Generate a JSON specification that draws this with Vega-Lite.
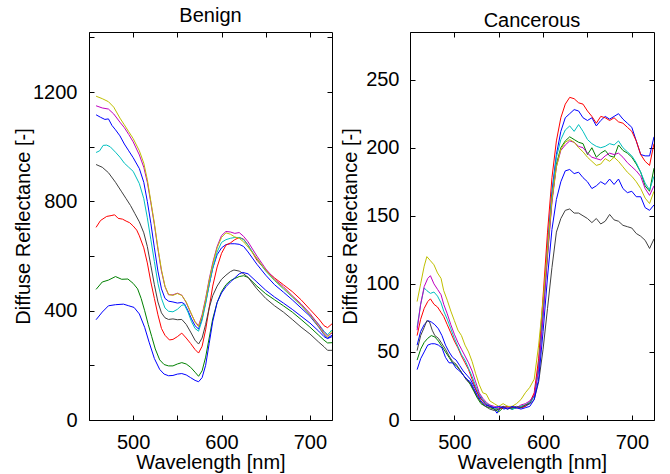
{
"$schema": "https://vega.github.io/schema/vega-lite/v6.json",
"padding": {"left": 13, "top": 5, "right": 5, "bottom": 0},
"background": "white",
"config": {
  "view": {"stroke": "#000", "strokeWidth": 1},
  "font": "Liberation Sans",
  "axis": {"grid": false, "domain": false, "labelFont": "Liberation Sans", "labelFontSize": 20, "labelColor": "#000", "titleFont": "Liberation Sans", "titleFontSize": 20, "titleFontWeight": "normal", "titleColor": "#000", "tickColor": "#000", "tickSize": -5, "labelPadding": 14, "labelOverlap": false, "labelFlush": false, "labelBound": false},
  "title": {"font": "Liberation Sans", "fontSize": 20, "fontWeight": "normal", "color": "#000", "offset": 1}
},
"datasets": {
"benign": [
{"s":"b1","w":458,"v":1117},{"s":"b1","w":463,"v":1108},{"s":"b1","w":468,"v":1100},{"s":"b1","w":472,"v":1102},{"s":"b1","w":476,"v":1078},{"s":"b1","w":480,"v":1062},{"s":"b1","w":485,"v":1040},{"s":"b1","w":490,"v":1010},{"s":"b1","w":495,"v":985},{"s":"b1","w":500,"v":960},{"s":"b1","w":507,"v":920},{"s":"b1","w":512,"v":870},{"s":"b1","w":516,"v":800},{"s":"b1","w":520,"v":720},{"s":"b1","w":524,"v":630},{"s":"b1","w":528,"v":545},{"s":"b1","w":532,"v":480},{"s":"b1","w":536,"v":445},{"s":"b1","w":540,"v":435},{"s":"b1","w":545,"v":432},{"s":"b1","w":550,"v":428},{"s":"b1","w":555,"v":430},{"s":"b1","w":558,"v":425},{"s":"b1","w":562,"v":400},{"s":"b1","w":566,"v":370},{"s":"b1","w":570,"v":345},{"s":"b1","w":574,"v":333},{"s":"b1","w":578,"v":372},{"s":"b1","w":582,"v":430},{"s":"b1","w":586,"v":495},{"s":"b1","w":590,"v":555},{"s":"b1","w":595,"v":605},{"s":"b1","w":600,"v":630},{"s":"b1","w":605,"v":642},{"s":"b1","w":610,"v":645},{"s":"b1","w":615,"v":645},{"s":"b1","w":620,"v":643},{"s":"b1","w":625,"v":635},{"s":"b1","w":630,"v":615},{"s":"b1","w":640,"v":570},{"s":"b1","w":650,"v":530},{"s":"b1","w":660,"v":495},{"s":"b1","w":670,"v":468},{"s":"b1","w":680,"v":440},{"s":"b1","w":690,"v":410},{"s":"b1","w":700,"v":380},{"s":"b1","w":710,"v":340},{"s":"b1","w":716,"v":312},{"s":"b1","w":720,"v":300},{"s":"b1","w":725,"v":310},
{"s":"g","w":458,"v":478},{"s":"g","w":465,"v":505},{"s":"g","w":472,"v":512},{"s":"g","w":480,"v":525},{"s":"g","w":487,"v":515},{"s":"g","w":494,"v":516},{"s":"g","w":500,"v":500},{"s":"g","w":505,"v":480},{"s":"g","w":509,"v":445},{"s":"g","w":513,"v":400},{"s":"g","w":517,"v":350},{"s":"g","w":521,"v":305},{"s":"g","w":525,"v":260},{"s":"g","w":530,"v":220},{"s":"g","w":535,"v":203},{"s":"g","w":540,"v":198},{"s":"g","w":545,"v":198},{"s":"g","w":550,"v":205},{"s":"g","w":555,"v":210},{"s":"g","w":560,"v":205},{"s":"g","w":565,"v":193},{"s":"g","w":570,"v":175},{"s":"g","w":574,"v":160},{"s":"g","w":578,"v":180},{"s":"g","w":582,"v":230},{"s":"g","w":586,"v":300},{"s":"g","w":590,"v":370},{"s":"g","w":595,"v":430},{"s":"g","w":600,"v":470},{"s":"g","w":605,"v":495},{"s":"g","w":610,"v":510},{"s":"g","w":615,"v":518},{"s":"g","w":620,"v":525},{"s":"g","w":625,"v":528},{"s":"g","w":630,"v":522},{"s":"g","w":640,"v":490},{"s":"g","w":650,"v":462},{"s":"g","w":660,"v":440},{"s":"g","w":670,"v":418},{"s":"g","w":680,"v":395},{"s":"g","w":690,"v":368},{"s":"g","w":700,"v":340},{"s":"g","w":710,"v":310},{"s":"g","w":716,"v":292},{"s":"g","w":720,"v":282},{"s":"g","w":725,"v":283},
{"s":"r","w":458,"v":705},{"s":"r","w":463,"v":730},{"s":"r","w":470,"v":745},{"s":"r","w":475,"v":748},{"s":"r","w":479,"v":751},{"s":"r","w":483,"v":738},{"s":"r","w":488,"v":735},{"s":"r","w":492,"v":728},{"s":"r","w":496,"v":722},{"s":"r","w":500,"v":710},{"s":"r","w":504,"v":695},{"s":"r","w":507,"v":674},{"s":"r","w":512,"v":630},{"s":"r","w":516,"v":575},{"s":"r","w":520,"v":505},{"s":"r","w":524,"v":445},{"s":"r","w":528,"v":385},{"s":"r","w":532,"v":335},{"s":"r","w":536,"v":310},{"s":"r","w":541,"v":293},{"s":"r","w":545,"v":295},{"s":"r","w":550,"v":305},{"s":"r","w":555,"v":318},{"s":"r","w":560,"v":300},{"s":"r","w":565,"v":280},{"s":"r","w":570,"v":258},{"s":"r","w":574,"v":245},{"s":"r","w":578,"v":270},{"s":"r","w":582,"v":330},{"s":"r","w":586,"v":410},{"s":"r","w":590,"v":490},{"s":"r","w":595,"v":560},{"s":"r","w":600,"v":610},{"s":"r","w":605,"v":640},{"s":"r","w":610,"v":648},{"s":"r","w":615,"v":660},{"s":"r","w":620,"v":668},{"s":"r","w":625,"v":662},{"s":"r","w":630,"v":640},{"s":"r","w":640,"v":585},{"s":"r","w":650,"v":548},{"s":"r","w":660,"v":520},{"s":"r","w":670,"v":495},{"s":"r","w":680,"v":470},{"s":"r","w":690,"v":440},{"s":"r","w":700,"v":405},{"s":"r","w":710,"v":370},{"s":"r","w":716,"v":345},{"s":"r","w":720,"v":338},{"s":"r","w":725,"v":352},
{"s":"c","w":458,"v":979},{"s":"c","w":462,"v":985},{"s":"c","w":466,"v":1005},{"s":"c","w":470,"v":1006},{"s":"c","w":474,"v":1000},{"s":"c","w":480,"v":980},{"s":"c","w":485,"v":962},{"s":"c","w":490,"v":940},{"s":"c","w":495,"v":925},{"s":"c","w":500,"v":910},{"s":"c","w":507,"v":865},{"s":"c","w":512,"v":810},{"s":"c","w":516,"v":740},{"s":"c","w":520,"v":660},{"s":"c","w":524,"v":580},{"s":"c","w":528,"v":500},{"s":"c","w":532,"v":445},{"s":"c","w":536,"v":410},{"s":"c","w":540,"v":398},{"s":"c","w":545,"v":396},{"s":"c","w":550,"v":405},{"s":"c","w":555,"v":420},{"s":"c","w":558,"v":422},{"s":"c","w":562,"v":395},{"s":"c","w":566,"v":360},{"s":"c","w":570,"v":335},{"s":"c","w":574,"v":325},{"s":"c","w":578,"v":365},{"s":"c","w":582,"v":425},{"s":"c","w":586,"v":495},{"s":"c","w":590,"v":555},{"s":"c","w":595,"v":615},{"s":"c","w":600,"v":650},{"s":"c","w":605,"v":660},{"s":"c","w":610,"v":665},{"s":"c","w":615,"v":668},{"s":"c","w":620,"v":668},{"s":"c","w":625,"v":660},{"s":"c","w":630,"v":640},{"s":"c","w":640,"v":590},{"s":"c","w":650,"v":545},{"s":"c","w":660,"v":510},{"s":"c","w":670,"v":480},{"s":"c","w":680,"v":450},{"s":"c","w":690,"v":420},{"s":"c","w":700,"v":385},{"s":"c","w":710,"v":350},{"s":"c","w":716,"v":325},{"s":"c","w":720,"v":312},{"s":"c","w":725,"v":330},
{"s":"m","w":458,"v":1150},{"s":"m","w":465,"v":1142},{"s":"m","w":472,"v":1138},{"s":"m","w":478,"v":1120},{"s":"m","w":485,"v":1090},{"s":"m","w":490,"v":1070},{"s":"m","w":495,"v":1045},{"s":"m","w":500,"v":1018},{"s":"m","w":507,"v":970},{"s":"m","w":512,"v":925},{"s":"m","w":516,"v":870},{"s":"m","w":520,"v":795},{"s":"m","w":524,"v":715},{"s":"m","w":528,"v":625},{"s":"m","w":532,"v":545},{"s":"m","w":536,"v":488},{"s":"m","w":540,"v":458},{"s":"m","w":545,"v":458},{"s":"m","w":550,"v":464},{"s":"m","w":555,"v":457},{"s":"m","w":560,"v":430},{"s":"m","w":565,"v":393},{"s":"m","w":570,"v":360},{"s":"m","w":574,"v":345},{"s":"m","w":578,"v":385},{"s":"m","w":582,"v":445},{"s":"m","w":586,"v":515},{"s":"m","w":590,"v":575},{"s":"m","w":595,"v":635},{"s":"m","w":600,"v":675},{"s":"m","w":605,"v":690},{"s":"m","w":610,"v":688},{"s":"m","w":615,"v":683},{"s":"m","w":620,"v":686},{"s":"m","w":625,"v":672},{"s":"m","w":630,"v":652},{"s":"m","w":640,"v":600},{"s":"m","w":650,"v":553},{"s":"m","w":660,"v":515},{"s":"m","w":670,"v":488},{"s":"m","w":680,"v":455},{"s":"m","w":690,"v":425},{"s":"m","w":700,"v":390},{"s":"m","w":710,"v":348},{"s":"m","w":716,"v":320},{"s":"m","w":720,"v":308},{"s":"m","w":725,"v":318},
{"s":"y","w":458,"v":1185},{"s":"y","w":465,"v":1176},{"s":"y","w":472,"v":1165},{"s":"y","w":478,"v":1145},{"s":"y","w":485,"v":1105},{"s":"y","w":490,"v":1080},{"s":"y","w":495,"v":1055},{"s":"y","w":500,"v":1030},{"s":"y","w":507,"v":985},{"s":"y","w":512,"v":940},{"s":"y","w":516,"v":880},{"s":"y","w":520,"v":800},{"s":"y","w":524,"v":720},{"s":"y","w":528,"v":630},{"s":"y","w":532,"v":550},{"s":"y","w":536,"v":490},{"s":"y","w":540,"v":460},{"s":"y","w":545,"v":456},{"s":"y","w":550,"v":463},{"s":"y","w":555,"v":456},{"s":"y","w":560,"v":432},{"s":"y","w":565,"v":395},{"s":"y","w":570,"v":358},{"s":"y","w":574,"v":342},{"s":"y","w":578,"v":380},{"s":"y","w":582,"v":440},{"s":"y","w":586,"v":510},{"s":"y","w":590,"v":570},{"s":"y","w":595,"v":630},{"s":"y","w":600,"v":668},{"s":"y","w":605,"v":685},{"s":"y","w":610,"v":680},{"s":"y","w":615,"v":670},{"s":"y","w":620,"v":665},{"s":"y","w":625,"v":652},{"s":"y","w":630,"v":633},{"s":"y","w":640,"v":592},{"s":"y","w":650,"v":548},{"s":"y","w":660,"v":512},{"s":"y","w":670,"v":483},{"s":"y","w":680,"v":452},{"s":"y","w":690,"v":420},{"s":"y","w":700,"v":385},{"s":"y","w":710,"v":342},{"s":"y","w":716,"v":315},{"s":"y","w":720,"v":303},{"s":"y","w":725,"v":325},
{"s":"k","w":458,"v":935},{"s":"k","w":465,"v":925},{"s":"k","w":472,"v":905},{"s":"k","w":480,"v":870},{"s":"k","w":487,"v":835},{"s":"k","w":492,"v":810},{"s":"k","w":497,"v":785},{"s":"k","w":502,"v":755},{"s":"k","w":507,"v":725},{"s":"k","w":512,"v":685},{"s":"k","w":516,"v":635},{"s":"k","w":520,"v":565},{"s":"k","w":524,"v":495},{"s":"k","w":528,"v":432},{"s":"k","w":532,"v":392},{"s":"k","w":536,"v":374},{"s":"k","w":540,"v":368},{"s":"k","w":545,"v":370},{"s":"k","w":550,"v":367},{"s":"k","w":555,"v":368},{"s":"k","w":560,"v":350},{"s":"k","w":565,"v":322},{"s":"k","w":570,"v":292},{"s":"k","w":574,"v":278},{"s":"k","w":578,"v":300},{"s":"k","w":582,"v":350},{"s":"k","w":586,"v":410},{"s":"k","w":590,"v":455},{"s":"k","w":595,"v":490},{"s":"k","w":600,"v":515},{"s":"k","w":605,"v":530},{"s":"k","w":610,"v":543},{"s":"k","w":614,"v":549},{"s":"k","w":620,"v":545},{"s":"k","w":625,"v":535},{"s":"k","w":630,"v":522},{"s":"k","w":640,"v":480},{"s":"k","w":650,"v":445},{"s":"k","w":660,"v":418},{"s":"k","w":670,"v":395},{"s":"k","w":680,"v":368},{"s":"k","w":690,"v":340},{"s":"k","w":700,"v":315},{"s":"k","w":710,"v":285},{"s":"k","w":716,"v":268},{"s":"k","w":720,"v":255},{"s":"k","w":725,"v":255},
{"s":"b2","w":458,"v":367},{"s":"b2","w":465,"v":395},{"s":"b2","w":472,"v":418},{"s":"b2","w":480,"v":422},{"s":"b2","w":489,"v":424},{"s":"b2","w":495,"v":418},{"s":"b2","w":501,"v":412},{"s":"b2","w":507,"v":388},{"s":"b2","w":513,"v":339},{"s":"b2","w":518,"v":285},{"s":"b2","w":524,"v":225},{"s":"b2","w":530,"v":185},{"s":"b2","w":535,"v":168},{"s":"b2","w":540,"v":162},{"s":"b2","w":545,"v":163},{"s":"b2","w":550,"v":168},{"s":"b2","w":555,"v":170},{"s":"b2","w":560,"v":165},{"s":"b2","w":565,"v":155},{"s":"b2","w":570,"v":145},{"s":"b2","w":574,"v":140},{"s":"b2","w":578,"v":155},{"s":"b2","w":582,"v":200},{"s":"b2","w":586,"v":280},{"s":"b2","w":590,"v":360},{"s":"b2","w":595,"v":430},{"s":"b2","w":600,"v":465},{"s":"b2","w":605,"v":488},{"s":"b2","w":610,"v":505},{"s":"b2","w":615,"v":520},{"s":"b2","w":620,"v":535},{"s":"b2","w":624,"v":540},{"s":"b2","w":630,"v":535},{"s":"b2","w":640,"v":505},{"s":"b2","w":650,"v":475},{"s":"b2","w":660,"v":450},{"s":"b2","w":670,"v":428},{"s":"b2","w":680,"v":405},{"s":"b2","w":690,"v":380},{"s":"b2","w":700,"v":355},{"s":"b2","w":710,"v":325},{"s":"b2","w":716,"v":305},{"s":"b2","w":720,"v":298},{"s":"b2","w":725,"v":305}
],
"cancer": [
{"s":"b1","w":458,"v":55},{"s":"b1","w":462,"v":65},{"s":"b1","w":466,"v":70},{"s":"b1","w":470,"v":73},{"s":"b1","w":474,"v":72},{"s":"b1","w":478,"v":70},{"s":"b1","w":482,"v":67},{"s":"b1","w":486,"v":62},{"s":"b1","w":490,"v":55},{"s":"b1","w":494,"v":50},{"s":"b1","w":498,"v":46},{"s":"b1","w":502,"v":44},{"s":"b1","w":506,"v":40},{"s":"b1","w":510,"v":36},{"s":"b1","w":514,"v":33},{"s":"b1","w":518,"v":30},{"s":"b1","w":522,"v":25},{"s":"b1","w":526,"v":20},{"s":"b1","w":530,"v":16},{"s":"b1","w":535,"v":12},{"s":"b1","w":540,"v":10},{"s":"b1","w":545,"v":8},{"s":"b1","w":548,"v":5},{"s":"b1","w":552,"v":9},{"s":"b1","w":556,"v":8},{"s":"b1","w":560,"v":9},{"s":"b1","w":565,"v":8},{"s":"b1","w":570,"v":9},{"s":"b1","w":575,"v":9},{"s":"b1","w":580,"v":10},{"s":"b1","w":585,"v":12},{"s":"b1","w":590,"v":18},{"s":"b1","w":595,"v":40},{"s":"b1","w":600,"v":84},{"s":"b1","w":605,"v":128},{"s":"b1","w":610,"v":168},{"s":"b1","w":615,"v":195},{"s":"b1","w":620,"v":212},{"s":"b1","w":625,"v":222},{"s":"b1","w":630,"v":225},{"s":"b1","w":635,"v":228},{"s":"b1","w":640,"v":227},{"s":"b1","w":645,"v":222},{"s":"b1","w":650,"v":220},{"s":"b1","w":655,"v":222},{"s":"b1","w":660,"v":216},{"s":"b1","w":665,"v":220},{"s":"b1","w":670,"v":223},{"s":"b1","w":675,"v":221},{"s":"b1","w":680,"v":223},{"s":"b1","w":685,"v":225},{"s":"b1","w":690,"v":221},{"s":"b1","w":695,"v":218},{"s":"b1","w":700,"v":215},{"s":"b1","w":705,"v":205},{"s":"b1","w":710,"v":195},{"s":"b1","w":715,"v":194},{"s":"b1","w":720,"v":194},{"s":"b1","w":725,"v":208},
{"s":"g","w":458,"v":44},{"s":"g","w":462,"v":52},{"s":"g","w":466,"v":57},{"s":"g","w":470,"v":60},{"s":"g","w":474,"v":62},{"s":"g","w":478,"v":61},{"s":"g","w":482,"v":58},{"s":"g","w":486,"v":54},{"s":"g","w":490,"v":50},{"s":"g","w":494,"v":46},{"s":"g","w":498,"v":42},{"s":"g","w":502,"v":40},{"s":"g","w":506,"v":37},{"s":"g","w":510,"v":33},{"s":"g","w":514,"v":30},{"s":"g","w":518,"v":26},{"s":"g","w":522,"v":21},{"s":"g","w":526,"v":16},{"s":"g","w":530,"v":12},{"s":"g","w":535,"v":10},{"s":"g","w":540,"v":9},{"s":"g","w":545,"v":8},{"s":"g","w":550,"v":6},{"s":"g","w":555,"v":9},{"s":"g","w":560,"v":10},{"s":"g","w":565,"v":8},{"s":"g","w":570,"v":9},{"s":"g","w":575,"v":10},{"s":"g","w":580,"v":11},{"s":"g","w":585,"v":13},{"s":"g","w":590,"v":18},{"s":"g","w":595,"v":38},{"s":"g","w":600,"v":78},{"s":"g","w":605,"v":122},{"s":"g","w":610,"v":162},{"s":"g","w":615,"v":188},{"s":"g","w":620,"v":200},{"s":"g","w":625,"v":205},{"s":"g","w":630,"v":208},{"s":"g","w":635,"v":206},{"s":"g","w":640,"v":204},{"s":"g","w":645,"v":203},{"s":"g","w":650,"v":195},{"s":"g","w":655,"v":200},{"s":"g","w":660,"v":193},{"s":"g","w":665,"v":196},{"s":"g","w":670,"v":198},{"s":"g","w":675,"v":194},{"s":"g","w":680,"v":193},{"s":"g","w":685,"v":202},{"s":"g","w":690,"v":198},{"s":"g","w":695,"v":196},{"s":"g","w":700,"v":193},{"s":"g","w":705,"v":188},{"s":"g","w":710,"v":182},{"s":"g","w":715,"v":172},{"s":"g","w":720,"v":168},{"s":"g","w":725,"v":185},
{"s":"r","w":458,"v":62},{"s":"r","w":462,"v":74},{"s":"r","w":466,"v":82},{"s":"r","w":470,"v":87},{"s":"r","w":473,"v":89},{"s":"r","w":477,"v":85},{"s":"r","w":481,"v":83},{"s":"r","w":485,"v":79},{"s":"r","w":488,"v":76},{"s":"r","w":492,"v":70},{"s":"r","w":496,"v":64},{"s":"r","w":500,"v":58},{"s":"r","w":504,"v":53},{"s":"r","w":508,"v":47},{"s":"r","w":512,"v":42},{"s":"r","w":516,"v":37},{"s":"r","w":520,"v":30},{"s":"r","w":524,"v":23},{"s":"r","w":528,"v":17},{"s":"r","w":532,"v":14},{"s":"r","w":536,"v":11},{"s":"r","w":540,"v":10},{"s":"r","w":545,"v":9},{"s":"r","w":550,"v":8},{"s":"r","w":555,"v":9},{"s":"r","w":560,"v":10},{"s":"r","w":565,"v":9},{"s":"r","w":570,"v":9},{"s":"r","w":575,"v":9},{"s":"r","w":580,"v":10},{"s":"r","w":585,"v":13},{"s":"r","w":590,"v":20},{"s":"r","w":595,"v":45},{"s":"r","w":600,"v":91},{"s":"r","w":605,"v":138},{"s":"r","w":610,"v":178},{"s":"r","w":615,"v":205},{"s":"r","w":620,"v":222},{"s":"r","w":625,"v":232},{"s":"r","w":630,"v":237},{"s":"r","w":635,"v":236},{"s":"r","w":640,"v":233},{"s":"r","w":645,"v":232},{"s":"r","w":650,"v":227},{"s":"r","w":655,"v":223},{"s":"r","w":660,"v":218},{"s":"r","w":665,"v":223},{"s":"r","w":670,"v":222},{"s":"r","w":675,"v":220},{"s":"r","w":680,"v":222},{"s":"r","w":685,"v":219},{"s":"r","w":690,"v":218},{"s":"r","w":695,"v":215},{"s":"r","w":700,"v":212},{"s":"r","w":705,"v":205},{"s":"r","w":710,"v":195},{"s":"r","w":715,"v":190},{"s":"r","w":720,"v":187},{"s":"r","w":725,"v":203},
{"s":"c","w":458,"v":68},{"s":"c","w":462,"v":85},{"s":"c","w":466,"v":97},{"s":"c","w":469,"v":95},{"s":"c","w":473,"v":93},{"s":"c","w":477,"v":94},{"s":"c","w":481,"v":91},{"s":"c","w":485,"v":86},{"s":"c","w":488,"v":80},{"s":"c","w":492,"v":74},{"s":"c","w":496,"v":67},{"s":"c","w":500,"v":60},{"s":"c","w":504,"v":54},{"s":"c","w":508,"v":48},{"s":"c","w":512,"v":44},{"s":"c","w":516,"v":38},{"s":"c","w":520,"v":32},{"s":"c","w":524,"v":25},{"s":"c","w":528,"v":19},{"s":"c","w":532,"v":15},{"s":"c","w":536,"v":12},{"s":"c","w":540,"v":11},{"s":"c","w":545,"v":9},{"s":"c","w":550,"v":8},{"s":"c","w":555,"v":10},{"s":"c","w":560,"v":9},{"s":"c","w":565,"v":8},{"s":"c","w":570,"v":9},{"s":"c","w":575,"v":10},{"s":"c","w":580,"v":11},{"s":"c","w":585,"v":13},{"s":"c","w":590,"v":17},{"s":"c","w":595,"v":38},{"s":"c","w":600,"v":80},{"s":"c","w":605,"v":124},{"s":"c","w":610,"v":165},{"s":"c","w":615,"v":193},{"s":"c","w":620,"v":206},{"s":"c","w":625,"v":213},{"s":"c","w":630,"v":216},{"s":"c","w":635,"v":212},{"s":"c","w":640,"v":217},{"s":"c","w":645,"v":212},{"s":"c","w":650,"v":206},{"s":"c","w":655,"v":203},{"s":"c","w":660,"v":201},{"s":"c","w":665,"v":200},{"s":"c","w":670,"v":201},{"s":"c","w":675,"v":203},{"s":"c","w":680,"v":202},{"s":"c","w":685,"v":205},{"s":"c","w":690,"v":200},{"s":"c","w":695,"v":197},{"s":"c","w":700,"v":194},{"s":"c","w":705,"v":189},{"s":"c","w":710,"v":182},{"s":"c","w":715,"v":174},{"s":"c","w":720,"v":169},{"s":"c","w":725,"v":179},
{"s":"m","w":458,"v":66},{"s":"m","w":462,"v":85},{"s":"m","w":466,"v":98},{"s":"m","w":470,"v":104},{"s":"m","w":473,"v":106},{"s":"m","w":477,"v":100},{"s":"m","w":481,"v":96},{"s":"m","w":485,"v":92},{"s":"m","w":488,"v":85},{"s":"m","w":492,"v":78},{"s":"m","w":496,"v":70},{"s":"m","w":500,"v":63},{"s":"m","w":504,"v":57},{"s":"m","w":508,"v":52},{"s":"m","w":512,"v":47},{"s":"m","w":516,"v":42},{"s":"m","w":520,"v":36},{"s":"m","w":524,"v":28},{"s":"m","w":528,"v":20},{"s":"m","w":532,"v":16},{"s":"m","w":536,"v":13},{"s":"m","w":540,"v":11},{"s":"m","w":545,"v":10},{"s":"m","w":550,"v":9},{"s":"m","w":555,"v":10},{"s":"m","w":560,"v":9},{"s":"m","w":565,"v":10},{"s":"m","w":570,"v":9},{"s":"m","w":575,"v":11},{"s":"m","w":580,"v":12},{"s":"m","w":585,"v":14},{"s":"m","w":590,"v":18},{"s":"m","w":595,"v":37},{"s":"m","w":600,"v":76},{"s":"m","w":605,"v":120},{"s":"m","w":610,"v":160},{"s":"m","w":615,"v":186},{"s":"m","w":620,"v":198},{"s":"m","w":625,"v":202},{"s":"m","w":630,"v":205},{"s":"m","w":635,"v":204},{"s":"m","w":640,"v":201},{"s":"m","w":645,"v":200},{"s":"m","w":650,"v":196},{"s":"m","w":655,"v":193},{"s":"m","w":660,"v":192},{"s":"m","w":665,"v":191},{"s":"m","w":670,"v":194},{"s":"m","w":675,"v":196},{"s":"m","w":680,"v":195},{"s":"m","w":685,"v":196},{"s":"m","w":690,"v":193},{"s":"m","w":695,"v":189},{"s":"m","w":700,"v":186},{"s":"m","w":705,"v":183},{"s":"m","w":710,"v":179},{"s":"m","w":715,"v":170},{"s":"m","w":720,"v":165},{"s":"m","w":725,"v":172},
{"s":"y","w":458,"v":87},{"s":"y","w":462,"v":100},{"s":"y","w":466,"v":113},{"s":"y","w":469,"v":120},{"s":"y","w":473,"v":117},{"s":"y","w":477,"v":114},{"s":"y","w":481,"v":108},{"s":"y","w":485,"v":104},{"s":"y","w":488,"v":95},{"s":"y","w":492,"v":88},{"s":"y","w":496,"v":80},{"s":"y","w":500,"v":73},{"s":"y","w":504,"v":66},{"s":"y","w":508,"v":62},{"s":"y","w":512,"v":55},{"s":"y","w":516,"v":50},{"s":"y","w":520,"v":43},{"s":"y","w":524,"v":34},{"s":"y","w":528,"v":26},{"s":"y","w":532,"v":20},{"s":"y","w":536,"v":19},{"s":"y","w":540,"v":14},{"s":"y","w":545,"v":12},{"s":"y","w":550,"v":10},{"s":"y","w":555,"v":12},{"s":"y","w":560,"v":10},{"s":"y","w":565,"v":10},{"s":"y","w":570,"v":12},{"s":"y","w":575,"v":15},{"s":"y","w":580,"v":20},{"s":"y","w":585,"v":24},{"s":"y","w":590,"v":30},{"s":"y","w":595,"v":55},{"s":"y","w":600,"v":88},{"s":"y","w":605,"v":125},{"s":"y","w":610,"v":162},{"s":"y","w":615,"v":186},{"s":"y","w":620,"v":199},{"s":"y","w":625,"v":204},{"s":"y","w":630,"v":206},{"s":"y","w":635,"v":204},{"s":"y","w":640,"v":200},{"s":"y","w":645,"v":197},{"s":"y","w":650,"v":193},{"s":"y","w":655,"v":190},{"s":"y","w":660,"v":187},{"s":"y","w":665,"v":188},{"s":"y","w":670,"v":192},{"s":"y","w":675,"v":190},{"s":"y","w":680,"v":193},{"s":"y","w":685,"v":190},{"s":"y","w":690,"v":186},{"s":"y","w":695,"v":182},{"s":"y","w":700,"v":179},{"s":"y","w":705,"v":175},{"s":"y","w":710,"v":170},{"s":"y","w":715,"v":163},{"s":"y","w":720,"v":159},{"s":"y","w":725,"v":168},
{"s":"k","w":458,"v":51},{"s":"k","w":462,"v":62},{"s":"k","w":466,"v":68},{"s":"k","w":469,"v":73},{"s":"k","w":472,"v":72},{"s":"k","w":475,"v":66},{"s":"k","w":478,"v":62},{"s":"k","w":482,"v":60},{"s":"k","w":486,"v":56},{"s":"k","w":490,"v":52},{"s":"k","w":494,"v":47},{"s":"k","w":498,"v":43},{"s":"k","w":502,"v":41},{"s":"k","w":506,"v":37},{"s":"k","w":510,"v":33},{"s":"k","w":514,"v":29},{"s":"k","w":518,"v":27},{"s":"k","w":522,"v":22},{"s":"k","w":526,"v":17},{"s":"k","w":530,"v":13},{"s":"k","w":535,"v":10},{"s":"k","w":540,"v":8},{"s":"k","w":545,"v":7},{"s":"k","w":550,"v":8},{"s":"k","w":555,"v":10},{"s":"k","w":560,"v":8},{"s":"k","w":565,"v":9},{"s":"k","w":570,"v":10},{"s":"k","w":575,"v":9},{"s":"k","w":580,"v":11},{"s":"k","w":585,"v":12},{"s":"k","w":590,"v":15},{"s":"k","w":595,"v":28},{"s":"k","w":600,"v":52},{"s":"k","w":605,"v":82},{"s":"k","w":610,"v":112},{"s":"k","w":615,"v":138},{"s":"k","w":620,"v":148},{"s":"k","w":625,"v":154},{"s":"k","w":630,"v":155},{"s":"k","w":635,"v":152},{"s":"k","w":640,"v":152},{"s":"k","w":645,"v":150},{"s":"k","w":650,"v":148},{"s":"k","w":655,"v":145},{"s":"k","w":660,"v":148},{"s":"k","w":665,"v":144},{"s":"k","w":670,"v":146},{"s":"k","w":675,"v":151},{"s":"k","w":680,"v":147},{"s":"k","w":685,"v":146},{"s":"k","w":690,"v":143},{"s":"k","w":695,"v":142},{"s":"k","w":700,"v":141},{"s":"k","w":705,"v":137},{"s":"k","w":710,"v":135},{"s":"k","w":715,"v":132},{"s":"k","w":720,"v":126},{"s":"k","w":725,"v":133},
{"s":"b2","w":458,"v":37},{"s":"b2","w":462,"v":45},{"s":"b2","w":466,"v":50},{"s":"b2","w":470,"v":55},{"s":"b2","w":474,"v":56},{"s":"b2","w":478,"v":56},{"s":"b2","w":482,"v":55},{"s":"b2","w":486,"v":53},{"s":"b2","w":490,"v":46},{"s":"b2","w":494,"v":42},{"s":"b2","w":498,"v":42},{"s":"b2","w":502,"v":38},{"s":"b2","w":506,"v":36},{"s":"b2","w":510,"v":33},{"s":"b2","w":514,"v":30},{"s":"b2","w":518,"v":28},{"s":"b2","w":522,"v":23},{"s":"b2","w":526,"v":18},{"s":"b2","w":530,"v":14},{"s":"b2","w":535,"v":11},{"s":"b2","w":540,"v":10},{"s":"b2","w":545,"v":9},{"s":"b2","w":550,"v":10},{"s":"b2","w":555,"v":9},{"s":"b2","w":560,"v":8},{"s":"b2","w":565,"v":10},{"s":"b2","w":570,"v":9},{"s":"b2","w":575,"v":8},{"s":"b2","w":580,"v":9},{"s":"b2","w":585,"v":10},{"s":"b2","w":590,"v":15},{"s":"b2","w":595,"v":30},{"s":"b2","w":600,"v":65},{"s":"b2","w":605,"v":105},{"s":"b2","w":610,"v":140},{"s":"b2","w":615,"v":162},{"s":"b2","w":620,"v":175},{"s":"b2","w":625,"v":183},{"s":"b2","w":630,"v":184},{"s":"b2","w":635,"v":181},{"s":"b2","w":640,"v":182},{"s":"b2","w":645,"v":178},{"s":"b2","w":650,"v":175},{"s":"b2","w":655,"v":170},{"s":"b2","w":660,"v":172},{"s":"b2","w":665,"v":175},{"s":"b2","w":670,"v":173},{"s":"b2","w":675,"v":177},{"s":"b2","w":680,"v":173},{"s":"b2","w":685,"v":177},{"s":"b2","w":690,"v":170},{"s":"b2","w":695,"v":167},{"s":"b2","w":700,"v":168},{"s":"b2","w":705,"v":164},{"s":"b2","w":710,"v":164},{"s":"b2","w":715,"v":156},{"s":"b2","w":720,"v":154},{"s":"b2","w":725,"v":158}
]
},
"hconcat": [
{
  "title": "Benign",
  "width": 243, "height": 388,
  "data": {"name": "benign"},
  "resolve": {"axis": {"x": "independent", "y": "independent"}},
  "layer": [
    {
      "mark": {"type": "line", "strokeWidth": 1, "clip": true},
      "encoding": {
        "x": {"field": "w", "type": "quantitative", "scale": {"domain": [450, 725], "nice": false, "zero": false},
              "axis": {"orient": "bottom", "title": "Wavelength [nm]", "values": [450, 500, 550, 600, 650, 700], "labelExpr": "datum.value % 100 === 0 ? datum.label : ''", "format": "d", "labelPadding": 17, "titlePadding": 0}},
        "y": {"field": "v", "type": "quantitative", "scale": {"domain": [0, 1420], "nice": false},
              "axis": {"orient": "left", "title": "Diffuse Reflectance [-]", "values": [0, 200, 400, 600, 800, 1000, 1200, 1400], "labelExpr": "datum.value % 400 === 0 ? datum.label : ''", "format": "d", "labelPadding": 17, "titlePadding": -1}},
        "color": {"field": "s", "type": "nominal", "legend": null,
                  "scale": {"domain": ["b1", "g", "r", "c", "m", "y", "k", "b2"], "range": ["#0000ff", "#008000", "#ff0000", "#00bfbf", "#bf00bf", "#bfbf00", "#404040", "#0000ff"]}}
      }
    },
    {
      "mark": {"type": "line", "strokeOpacity": 0},
      "encoding": {
        "x": {"field": "w", "type": "quantitative", "axis": {"orient": "top", "title": null, "labels": false, "values": [450, 500, 550, 600, 650, 700]}},
        "y": {"field": "v", "type": "quantitative", "axis": {"orient": "right", "title": null, "labels": false, "values": [0, 200, 400, 600, 800, 1000, 1200, 1400]}},
        "detail": {"field": "s"}
      }
    }
  ]
},
{
  "title": "Cancerous",
  "width": 244, "height": 388,
  "data": {"name": "cancer"},
  "resolve": {"axis": {"x": "independent", "y": "independent"}},
  "layer": [
    {
      "mark": {"type": "line", "strokeWidth": 1, "clip": true},
      "encoding": {
        "x": {"field": "w", "type": "quantitative", "scale": {"domain": [450, 725], "nice": false, "zero": false},
              "axis": {"orient": "bottom", "title": "Wavelength [nm]", "values": [450, 500, 550, 600, 650, 700], "labelExpr": "datum.value % 100 === 0 ? datum.label : ''", "format": "d", "labelPadding": 17, "titlePadding": 0}},
        "y": {"field": "v", "type": "quantitative", "scale": {"domain": [0, 285], "nice": false},
              "axis": {"orient": "left", "title": "Diffuse Reflectance [-]", "values": [0, 50, 100, 150, 200, 250], "format": "d", "labelPadding": 16, "titlePadding": 5}},
        "color": {"field": "s", "type": "nominal", "legend": null,
                  "scale": {"domain": ["b1", "g", "r", "c", "m", "y", "k", "b2"], "range": ["#0000ff", "#008000", "#ff0000", "#00bfbf", "#bf00bf", "#bfbf00", "#404040", "#0000ff"]}}
      }
    },
    {
      "mark": {"type": "line", "strokeOpacity": 0},
      "encoding": {
        "x": {"field": "w", "type": "quantitative", "axis": {"orient": "top", "title": null, "labels": false, "values": [450, 500, 550, 600, 650, 700]}},
        "y": {"field": "v", "type": "quantitative", "axis": {"orient": "right", "title": null, "labels": false, "values": [0, 50, 100, 150, 200, 250]}},
        "detail": {"field": "s"}
      }
    }
  ]
}
],
"spacing": 78,
"bounds": "flush"
}
